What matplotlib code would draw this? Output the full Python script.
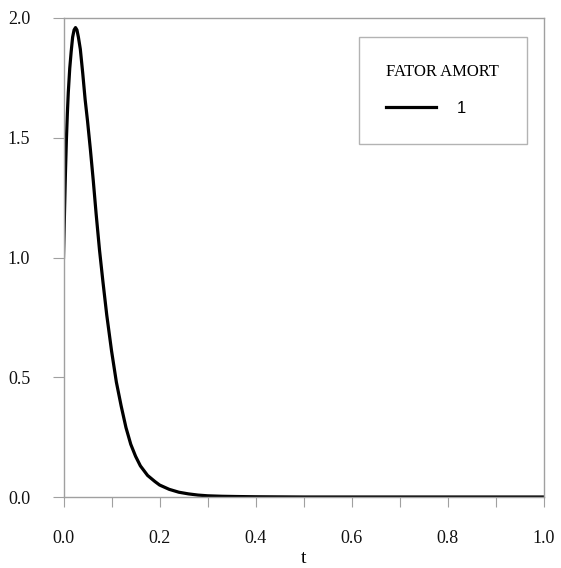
import matplotlib.pyplot as plt
from matplotlib.font_manager import FontProperties
import numpy as np

# valores (fator de amortecimento = 1)
t = [0.0, 0.002, 0.004, 0.006, 0.008, 0.010, 0.013, 0.016, 0.019, 0.022,
     0.025, 0.028, 0.031, 0.035, 0.040, 0.045, 0.050, 0.056, 0.062, 0.068,
     0.075, 0.082, 0.090, 0.100, 0.110, 0.120, 0.130, 0.140, 0.150, 0.160,
     0.175, 0.190, 0.200, 0.220, 0.240, 0.260, 0.280, 0.300, 0.330, 0.360,
     0.400, 0.500, 0.600, 0.800, 1.000]
x = [1.00, 1.18, 1.35, 1.49, 1.60, 1.69, 1.79, 1.86, 1.92, 1.95,
     1.96, 1.95, 1.92, 1.87, 1.77, 1.66, 1.57, 1.45, 1.32, 1.18,
     1.03, 0.90, 0.76, 0.61, 0.48, 0.38, 0.29, 0.22, 0.17, 0.13,
     0.09, 0.065, 0.05, 0.032, 0.020, 0.013, 0.008, 0.005, 0.003, 0.002,
     0.001, 0.0, 0.0, 0.0, 0.0]
serie = '1'
xticks = [0.0, 0.2, 0.4, 0.6, 0.8, 1.0]
yticks = [0.0, 0.5, 1.0, 1.5, 2.0]

cinza = '#a0a0a0'
serif = 'Liberation Serif'

fig = plt.figure(figsize=(5.61, 5.68), dpi=100)
ax = fig.add_axes([63.5/561, 1-497/568, 480.5/561, 479/568])

ax.plot(t, x, color='black', lw=2.3, label=serie, solid_joinstyle='round')

ax.set_xlim(0, 1)
ax.set_ylim(0, 2)
ax.set_xticks(np.arange(0, 1.01, 0.1))
ax.set_xticklabels(['%.1f' % v if round(v, 1) in xticks else '' for v in np.arange(0, 1.01, 0.1)])
ax.set_yticks(yticks)
ax.set_yticklabels(['%.1f' % v for v in yticks])

for s in ax.spines.values():
    s.set_color(cinza)
    s.set_linewidth(1.0)
ax.tick_params(axis='x', direction='out', length=7, color=cinza, pad=17)
ax.tick_params(axis='y', direction='out', length=8, color=cinza, pad=16)
for lab in ax.get_xticklabels() + ax.get_yticklabels():
    lab.set_family(serif)
    lab.set_fontsize(13)
    lab.set_color('#111111')

ax.set_xlabel('t', family=serif, fontsize=14, labelpad=2)

leg = ax.legend(loc='upper left', bbox_to_anchor=(0.5973, 0.978), frameon=True,
                fancybox=False, edgecolor=cinza, title='FATOR AMORT',
                title_fontproperties=FontProperties(family=serif, size=12),
                prop=FontProperties(family=['Liberation Sans', 'Arial'], size=12),
                borderpad=1.65, handlelength=3.0, handletextpad=1.2,
                alignment='left')
leg.get_frame().set_linewidth(1.0)
leg._legend_box.sep = 15

fig.savefig('out.png', dpi=100)
